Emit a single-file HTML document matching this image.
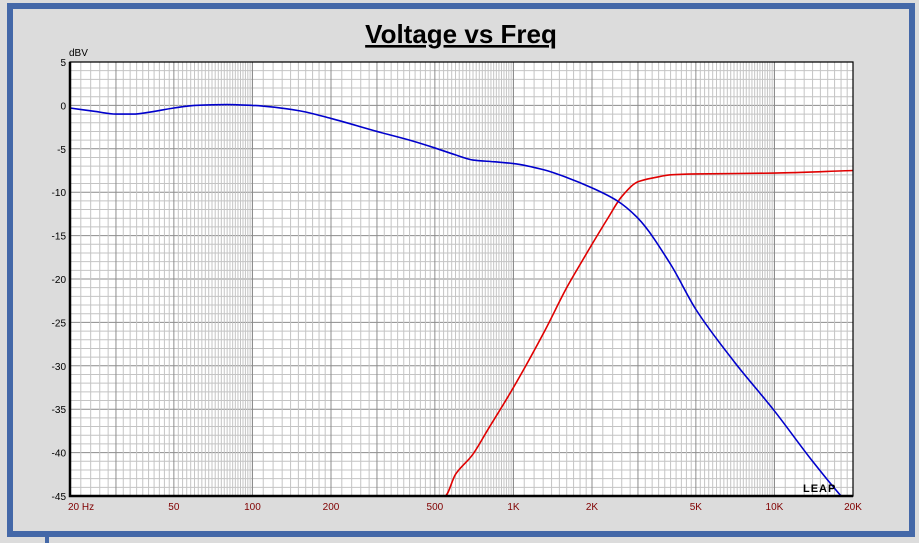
<!DOCTYPE html>
<html><head><meta charset="utf-8">
<style>
body{margin:0;background:#dcdcdc;width:919px;height:543px;overflow:hidden;font-family:"Liberation Sans",Arial,sans-serif;}
svg{display:block}
</style></head>
<body>
<svg width="919" height="543">
<rect x="0" y="0" width="919" height="543" fill="#dcdcdc"/>
<rect x="10" y="6" width="902" height="528" fill="#dcdcdc" stroke="#4468a8" stroke-width="6"/>
<rect x="45" y="537" width="4" height="6" fill="#4468a8"/>
<text x="461" y="43" text-anchor="middle" font-size="26" font-weight="bold" text-decoration="underline" fill="#000">Voltage vs Freq</text>
<text x="69" y="56" font-size="10" fill="#000">dBV</text>
<g id="plot"></g>
</svg>
<script>
const yTicks=[5,0,-5,-10,-15,-20,-25,-30,-35,-40,-45];
const xTickVals=[20,50,100,200,500,1000,2000,5000,10000,20000];
const xTickLabels=["20  Hz","50","100","200","500","1K","2K","5K","10K","20K"];
const blueF=[20,25,30,35,40,50,60,80,100,150,200,300,400,500,600,700,850,1000,1300,1600,2000,2500,3000,4000,5000,7000,10000,14000,18000,20000];
const blueV=[-0.3,-0.7,-1,-1,-0.8,-0.3,0,0.1,0,-0.6,-1.5,-3,-4,-4.9,-5.7,-6.3,-6.5,-6.7,-7.4,-8.3,-9.5,-11,-13,-18.3,-23.5,-29.5,-35.2,-41,-45,-46.5];
const redF=[20,546,600,695,800,1000,1322,1600,1770,2000,2300,2600,3000,3500,4000,5000,10000,20000];
const redV=[-45,-45,-42.5,-40.3,-37.3,-32.5,-25.9,-21,-18.7,-16,-13,-10.5,-8.8,-8.3,-8.0,-7.9,-7.8,-7.5];

const L=70,R=853,T=62,B=496;
const fx=f=>L+(R-L)*Math.log10(f/20)/3;
const fy=v=>T+(B-T)*(5-v)/50;
const g=document.getElementById('plot');
const NS='http://www.w3.org/2000/svg';
function mk(tag,attrs){const e=document.createElementNS(NS,tag);for(const k in attrs)e.setAttribute(k,attrs[k]);g.appendChild(e);return e;}
const bg=mk('rect',{x:L,y:T,width:R-L,height:B-T,fill:'#fff'});


for(let v=-45;v<=5;v++){
  const l=mk('line',{x1:L,x2:R,y1:fy(v),y2:fy(v),stroke:v%5===0?'#8c8c8c':'#c4c4c4','stroke-width':1});
  
  
}
for(const d of [10,100,1000,10000]){
  const fs=[];
  for(let m=1;m<2;m+=0.1)fs.push(m*d);
  for(let m=2;m<10.01;m+=0.2)fs.push(m*d);
  fs.forEach(f=>{
    f=Math.round(f*1000)/1000;
    if(f<20||f>20000)return;
    const m=f/d, dark=[1,2,3,5,10].some(k=>Math.abs(m-k)<1e-6);
    const l=mk('line',{x1:fx(f),x2:fx(f),y1:T,y2:B,stroke:dark?'#8c8c8c':'#c4c4c4','stroke-width':1});
    
    
  });
}
yTicks.forEach(v=>{
  const t=mk('text',{x:66,y:fy(v)+4,'text-anchor':'end','font-size':10,fill:'#000'});
  t.textContent=v;
  
  
});
xTickVals.forEach((f,i)=>{
  const t=mk('text',{x:fx(f)+(i===0?-2:0),y:510,'text-anchor':i===0?'start':'middle','font-size':10,fill:'#800000'});
  t.textContent=xTickLabels[i];
  
  
});
// monotone cubic (Fritsch-Carlson) in pixel space
function pathFor(F,V){
  const xs=F.map(fx), ys=V.map(fy), n=xs.length;
  const dx=[],m=[];
  for(let i=0;i<n-1;i++){dx.push(xs[i+1]-xs[i]);m.push((ys[i+1]-ys[i])/dx[i]);}
  const t=[m[0]];
  for(let i=1;i<n-1;i++){
    if(m[i-1]*m[i]<=0)t.push(0);
    else{const w1=2*dx[i]+dx[i-1],w2=dx[i]+2*dx[i-1];t.push((w1+w2)/(w1/m[i-1]+w2/m[i]));}
  }
  t.push(m[n-2]);
  let d='M'+xs[0]+','+ys[0];
  for(let i=0;i<n-1;i++){
    const h=dx[i]/3;
    d+=` C${xs[i]+h},${ys[i]+t[i]*h} ${xs[i+1]-h},${ys[i+1]-t[i+1]*h} ${xs[i+1]},${ys[i+1]}`;
  }
  return d;
}
const cp=mk('clipPath',{id:'clip'});
const cr=document.createElementNS(NS,'rect');
cr.setAttribute('x',L);cr.setAttribute('y',T);cr.setAttribute('width',R-L);cr.setAttribute('height',B-T+1);
cp.appendChild(cr);
const red=mk('path',{d:pathFor(redF,redV),fill:'none',stroke:'#e00000','stroke-width':1.6,'clip-path':'url(#clip)'});


const blue=mk('path',{d:pathFor(blueF,blueV),fill:'none',stroke:'#0000cc','stroke-width':1.6,'clip-path':'url(#clip)'});


const ax=mk('path',{d:`M${L},${T} V${B} H${R} V${T} Z`,fill:'none',stroke:'#000','stroke-width':1.2});


const axb=mk('path',{d:`M${L},${T} V${B} H${R}`,fill:'none',stroke:'#000','stroke-width':2.5});


const logo=mk('text',{x:803,y:492,'font-size':11,'font-weight':'bold','letter-spacing':'1',fill:'#000'});
logo.textContent='LEAP';


</script>
</body></html>
